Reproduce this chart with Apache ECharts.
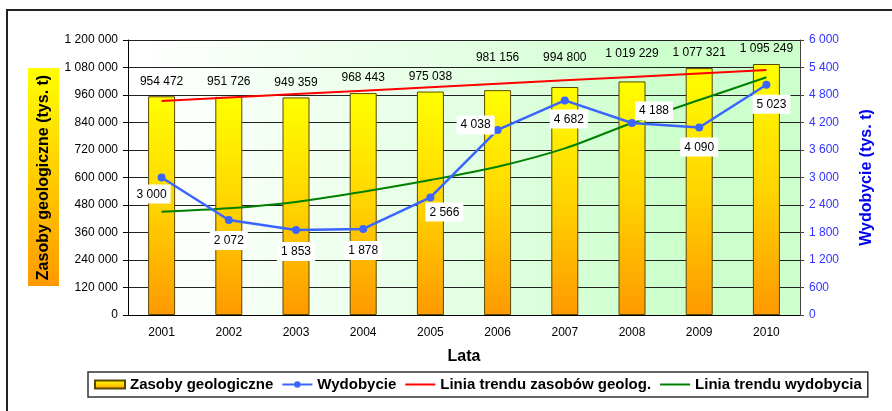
<!DOCTYPE html>
<html>
<head>
<meta charset="utf-8">
<script src="https://cdn.jsdelivr.net/npm/echarts@6/dist/echarts.min.js"></script>
<style>
  html, body { margin: 0; padding: 0; background: #fff; }
  #chart { width: 892px; height: 411px; }
</style>
</head>
<body>
<div id="chart"></div>
<script>
// dane
const years = ['2001', '2002', '2003', '2004', '2005', '2006', '2007', '2008', '2009', '2010']
const zasoby = [954472, 951726, 949359, 968443, 975038, 981156, 994800, 1019229, 1077321, 1095249]
const wydobycie = [3000, 2072, 1853, 1878, 2566, 4038, 4682, 4188, 4090, 5023]
const trendZasobow = [934000, 949000, 964000, 979000, 994000, 1009000, 1024000, 1039000, 1054000, 1069000]
const trendWydobycia = [2254, 2327, 2465, 2690, 2945, 3236, 3636, 4189, 4690, 5186]

// rozmieszczenie etykiet (tylko wygląd)
const barLabelGap = [9, 9, 9, 9, 9, 26, 23, 22, 9, 9]
const lineLabelPos = ['bottom', 'bottom', 'bottom', 'bottom', 'bottom', 'left', 'bottom', 'right', 'bottom', 'bottom']
const lineLabelShift = [[-10, -5], [0, -1], [0, 0], [0, 0], [14, -7], [9, -5], [4, -3], [-9, -12], [0, -2], [5, -2]]

const fmt = v => String(v).replace(/\B(?=(\d{3})+(?!\d))/g, ' ')
const FONT = '"Liberation Sans", Arial, sans-serif'

const chart = echarts.init(document.getElementById('chart'))

const barFill = new echarts.graphic.LinearGradient(0, 0, 0, 1, [
  { offset: 0, color: '#ffff00' },
  { offset: 0.5, color: '#ffd400' },
  { offset: 1, color: '#ff9900' }
])

const option = {
  animation: false,
  textStyle: { fontFamily: FONT },
  graphic: [
    {
      type: 'rect',
      z: -5,
      shape: { x: 7, y: 10, width: 900, height: 420 },
      style: { fill: 'none', stroke: '#222', lineWidth: 2 }
    },
    {
      type: 'rect',
      z: -5,
      shape: { x: 28, y: 68, width: 31, height: 218 },
      style: {
        fill: new echarts.graphic.LinearGradient(0, 0, 0, 1, [
          { offset: 0, color: '#ffff00' },
          { offset: 1, color: '#ff9900' }
        ])
      }
    }
  ],
  grid: {
    left: 128,
    right: 92,
    top: 40,
    bottom: 96,
    show: true,
    borderWidth: 0,
    backgroundColor: new echarts.graphic.LinearGradient(0, 0, 1, 0, [
      { offset: 0, color: '#ffffff' },
      { offset: 0.07, color: '#fcfffc' },
      { offset: 0.55, color: '#e0ffe0' },
      { offset: 0.8, color: '#ccffcc' },
      { offset: 1, color: '#ccffcc' }
    ])
  },
  legend: {
    left: 88,
    top: 372,
    padding: [5, 6, 5, 6],
    borderColor: '#333',
    borderWidth: 1.5,
    itemWidth: 30,
    itemHeight: 8,
    itemGap: 8,
    textStyle: { fontSize: 15, fontWeight: 'bold', color: '#000', fontFamily: FONT },
    data: [
      { name: 'Zasoby geologiczne', icon: 'rect' },
      'Wydobycie',
      { name: 'Linia trendu zasobów geolog.', itemStyle: { opacity: 0 } },
      { name: 'Linia trendu wydobycia', itemStyle: { opacity: 0 } }
    ]
  },
  xAxis: {
    type: 'category',
    data: years,
    name: 'Lata',
    nameLocation: 'middle',
    nameGap: 34,
    nameTextStyle: { fontSize: 16, fontWeight: 'bold', color: '#000' },
    axisLine: { lineStyle: { color: '#000', width: 1 } },
    axisTick: { length: 4, lineStyle: { color: '#000' } },
    axisLabel: { fontSize: 12, color: '#000', margin: 12 }
  },
  yAxis: [
    {
      type: 'value',
      min: 0,
      max: 1200000,
      interval: 120000,
      name: 'Zasoby geologiczne (tys. t)',
      nameLocation: 'middle',
      nameRotate: 90,
      nameGap: 76,
      nameTextStyle: { fontSize: 16, fontWeight: 'bold', color: '#000' },
      axisLine: { show: true, lineStyle: { color: '#000' } },
      axisTick: { show: true, length: 5, lineStyle: { color: '#000' } },
      axisLabel: { fontSize: 12, color: '#000', margin: 10, formatter: fmt },
      splitLine: { lineStyle: { color: '#222', width: 1 } }
    },
    {
      type: 'value',
      min: 0,
      max: 6000,
      interval: 600,
      position: 'right',
      name: 'Wydobycie (tys. t)',
      nameLocation: 'middle',
      nameRotate: 90,
      nameGap: 59,
      nameTextStyle: { fontSize: 16, fontWeight: 'bold', color: '#0000ee' },
      axisLine: { show: true, lineStyle: { color: '#444' } },
      axisTick: { show: true, length: 4, lineStyle: { color: '#444' } },
      axisLabel: { fontSize: 12, color: '#3333ff', margin: 9, formatter: fmt },
      splitLine: { show: false }
    }
  ],
  series: [
    {
      name: 'Zasoby geologiczne',
      type: 'bar',
      barWidth: 27,
      itemStyle: { color: barFill, borderColor: '#5a4800', borderWidth: 1 },
      data: zasoby.map((v, i) => ({
        value: v,
        label: { distance: barLabelGap[i] }
      })),
      label: {
        show: true,
        position: 'top',
        fontSize: 12,
        color: '#000',
        formatter: p => fmt(p.value)
      }
    },
    {
      name: 'Linia trendu zasobów geolog.',
      type: 'line',
      yAxisIndex: 0,
      symbol: 'none',
      z: 3,
      lineStyle: { color: '#ff0000', width: 2 },
      itemStyle: { color: '#ff0000' },
      data: trendZasobow
    },
    {
      name: 'Linia trendu wydobycia',
      type: 'line',
      yAxisIndex: 1,
      symbol: 'none',
      smooth: 0.3,
      z: 3,
      lineStyle: { color: '#008000', width: 2 },
      itemStyle: { color: '#008000' },
      data: trendWydobycia
    },
    {
      name: 'Wydobycie',
      type: 'line',
      yAxisIndex: 1,
      symbol: 'circle',
      symbolSize: 8,
      z: 4,
      lineStyle: { color: '#3a66ff', width: 2.5 },
      itemStyle: { color: '#3a66ff' },
      data: wydobycie.map((v, i) => ({
        value: v,
        label: { position: lineLabelPos[i], offset: lineLabelShift[i] }
      })),
      label: {
        show: true,
        distance: 8,
        fontSize: 12,
        color: '#000',
        backgroundColor: '#fff',
        padding: [4, 4, 3, 4],
        formatter: p => fmt(p.value)
      }
    }
  ]
}

chart.setOption(option)
</script>
</body>
</html>
